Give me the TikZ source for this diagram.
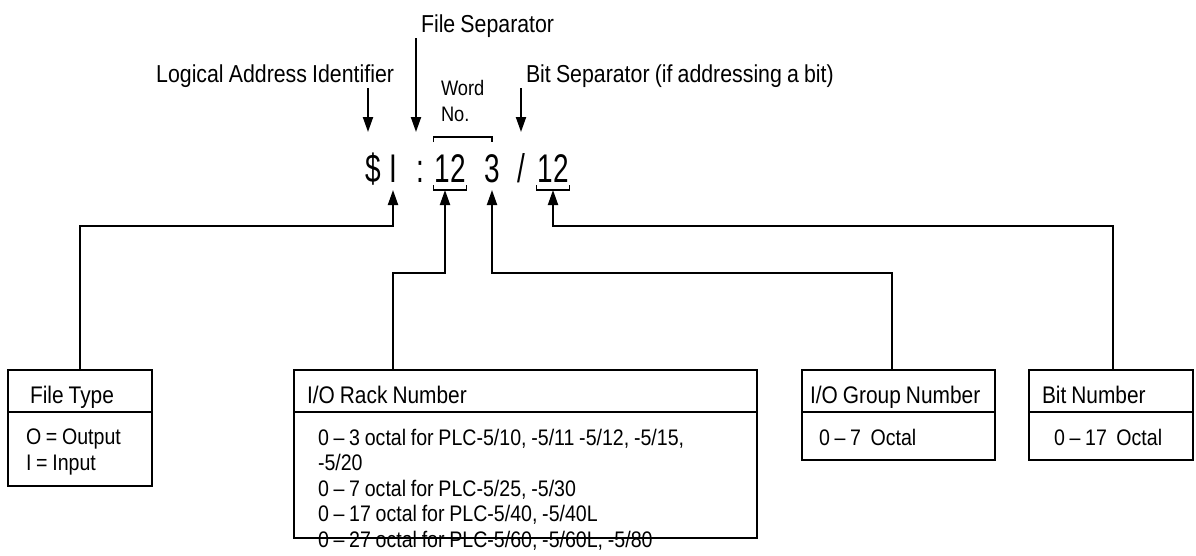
\documentclass[tikz,border=0pt]{standalone}
\usepackage{fontspec}
\setmainfont{Liberation Sans}[FakeStretch=0.87, WordSpace=0.87]
\newfontfamily\addrfont{Liberation Sans}[FakeStretch=0.7]
\usetikzlibrary{arrows.meta, positioning}

\begin{document}
\begin{tikzpicture}[
  x=1pt, y=-1pt, line width=2pt,
  hdrfont/.style={font=\fontsize{24}{25}\selectfont},
  boxfont/.style={font=\fontsize{22.5}{25.5}\selectfont},
  hdr/.style={draw, hdrfont, anchor=north west, outer sep=0pt,
              minimum height=42pt, inner ysep=0pt, align=flush left,
              text height=24pt, text depth=0pt},
  bdy/.style={draw, anchor=north west, outer sep=0pt, inner sep=0pt},
  bdytext/.style={boxfont, anchor=north west, inner sep=0pt, align=flush left},
  lbl/.style={font=\fontsize{24.5}{26}\selectfont, inner sep=0pt},
  wlbl/.style={font=\fontsize{21}{22}\selectfont, inner sep=0pt},
  glyph/.style={font=\addrfont\fontsize{40}{40}\selectfont, anchor=base,
                inner xsep=0pt, inner ysep=7pt, text depth=0pt},
  arr/.style={-{Triangle[length=15pt, width=10pt]}},
  brk/.style={line width=1.3pt}
]
\useasboundingbox (0,0) rectangle (1196,555);

% the address
\node[glyph] (dollar) at (373,182) {\$};
\node[glyph] (ii)     at (393,182) {I};
\node[glyph] (colon)  at (420,182) {:};
\node[glyph] (w12)    at (450,182) {12};
\node[glyph] (three)  at (492,182) {3};
\node[glyph] (slash)  at (521,182) {/};
\node[glyph] (b12)    at (553,182) {12};

\draw[brk] ([yshift=5pt]w12.south west) -- (w12.south west)
           -- (w12.south east) -- ([yshift=5pt]w12.south east);
\draw[brk] ([yshift=5pt]b12.south west) -- (b12.south west)
           -- (b12.south east) -- ([yshift=5pt]b12.south east);
\draw[brk] ([yshift=4pt]w12.north west) -- ([yshift=9pt]w12.north west)
           -- ([yshift=9pt]w12.north west -| three.north)
           -- ([yshift=4pt]w12.north west -| three.north);

% labels on top
\node[lbl, anchor=base east] (lai)  at (395,82) {Logical Address Identifier};
\node[lbl, anchor=base west] (fsep) at (420,32) {File Separator};
\node[lbl, anchor=base west] (bsep) at (525,82) {Bit Separator (if addressing a bit)};
\node[wlbl, anchor=base west] (word)   at (440,95)  {Word};
\node[wlbl, anchor=base west] (wordno) at (440,121) {No.};

\coordinate (laitip) at (368,132);
\coordinate (fstip)  at (416,132);
\coordinate (bstip)  at (521,132);
\draw[arr] (lai.south -| laitip)  -- (laitip);
\draw[arr] (fsep.south -| fstip)  -- (fstip);
\draw[arr] (bsep.south -| bstip)  -- (bstip);

% boxes
\node[hdr, text width=100pt, inner xsep=22pt] (fthdr) at (8,370) {File Type};
\node[bdy, minimum width=144pt, minimum height=74pt,
      below=0pt of fthdr.south west, anchor=north west] (ftbdy) {};
\node[bdytext] (ftval) at ([shift={(17,16)}]ftbdy.north west)
      {O = Output\\I = Input};

\node[hdr, text width=437pt, inner xsep=13pt] (rackhdr) at (294,370) {I/O Rack Number};
\node[bdy, minimum width=463pt, minimum height=126pt,
      below=0pt of rackhdr.south west, anchor=north west] (rackbdy) {};
\node[bdytext] (rackval) at ([shift={(23,16)}]rackbdy.north west)
      {0 – 3 octal for PLC-5/10, -5/11 -5/12, -5/15,\\
       -5/20\\
       0 – 7 octal for PLC-5/25, -5/30\\
       0 – 17 octal for PLC-5/40, -5/40L\\
       0 – 27 octal for PLC-5/60, -5/60L, -5/80};

\node[hdr, text width=177pt, inner xsep=8pt] (grphdr) at (802,370) {I/O Group Number};
\node[bdy, minimum width=193pt, minimum height=48pt,
      below=0pt of grphdr.south west, anchor=north west] (grpbdy) {};
\node[bdytext] (grpval) at ([shift={(16,16)}]grpbdy.north west) {0 – 7~~Octal};

\node[hdr, text width=138pt, inner xsep=13pt] (bithdr) at (1029,370) {Bit Number};
\node[bdy, minimum width=164pt, minimum height=48pt,
      below=0pt of bithdr.south west, anchor=north west] (bitbdy) {};
\node[bdytext] (bitval) at ([shift={(24,16)}]bitbdy.north west) {0 – 17~~Octal};

% connectors up to the address
\draw[arr] (fthdr.north) -- ++(0,-144) -| (ii.south);
\draw[arr] ([xshift=99pt]rackhdr.north west) -- ++(0,-97) -| ([xshift=-5pt]w12.south);
\draw[arr] ([xshift=90pt]grphdr.north west) -- ++(0,-97) -| (three.south);
\draw[arr] ([xshift=84pt]bithdr.north west) -- ++(0,-144) -| (b12.south);
\end{tikzpicture}
\end{document}
